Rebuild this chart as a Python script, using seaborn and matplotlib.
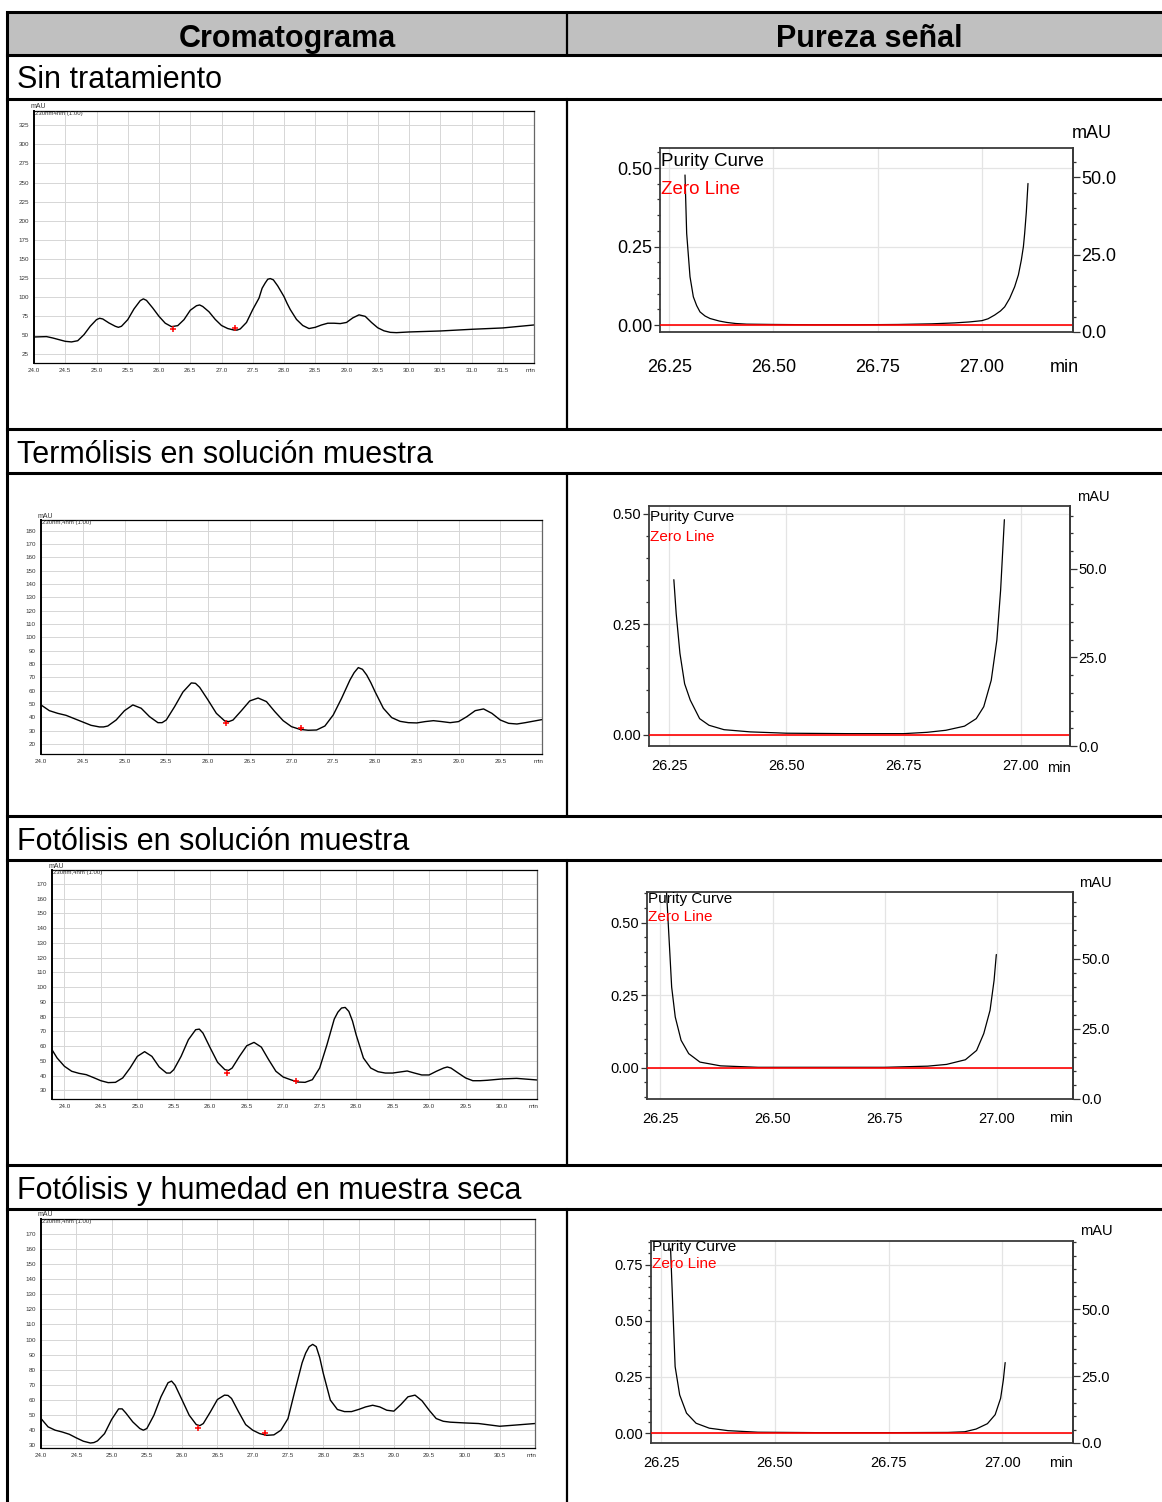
import matplotlib
matplotlib.use('Agg')
import matplotlib.pyplot as plt
import seaborn as sns
from matplotlib import font_manager
from matplotlib.patches import Rectangle
from matplotlib.ticker import MultipleLocator, FixedLocator, FuncFormatter, FormatStrFormatter

# ---------------- data ----------------
headers = ['Cromatograma', 'Pureza señal']
conditions = ['Sin tratamiento', 'Termólisis en solución muestra',
              'Fotólisis en solución muestra', 'Fotólisis y humedad en muestra seca']
wl_labels = ['230nm4nm (1.00)', '230nm,4nm (1.00)', '230nm,4nm (1.00)', '230nm,4nm (1.00)']

# chromatograms (min, mAU)
sin_t = [24.0, 24.2, 24.3, 24.4, 24.5, 24.6, 24.7, 24.8, 24.9,
         25.0, 25.05, 25.1, 25.2, 25.3, 25.35, 25.4, 25.5, 25.6, 25.7, 25.75, 25.8, 25.9,
         26.0, 26.1, 26.2, 26.3, 26.4, 26.5, 26.6, 26.65, 26.7, 26.8, 26.9,
         27.0, 27.1, 27.2, 27.25, 27.3, 27.4, 27.5, 27.6, 27.65, 27.7, 27.74, 27.78, 27.83,
         27.9, 27.95, 28.0, 28.05, 28.1, 28.2, 28.3, 28.4, 28.5, 28.6, 28.7, 28.8, 28.9,
         29.0, 29.1, 29.2, 29.3, 29.4, 29.5, 29.6, 29.7, 29.8,
         30.0, 30.5, 31.0, 31.5, 32.0]
sin_mau = [46.9, 47.4, 45.6, 43.4, 41.2, 40.4, 42.0, 50.0, 61.0,
           69.7, 71.5, 70.6, 65.3, 61.0, 59.6, 61.0, 69.7, 83.8, 94.7, 97.0, 95.0, 85.0,
           74.0, 65.0, 60.5, 61.8, 69.7, 82.0, 88.0, 89.0, 87.0, 80.0, 70.0,
           62.0, 58.0, 56.0, 56.0, 57.5, 66.0, 83.0, 98.0, 111.0, 118.0, 122.8, 123.7, 122.0,
           114.0, 107.0, 100.0, 91.0, 83.0, 70.0, 62.0, 58.0, 59.6, 62.7, 65.0, 65.0, 64.5,
           66.0, 72.0, 76.0, 74.0, 66.0, 59.0, 55.0, 53.0, 52.6,
           53.5, 54.8, 57.0, 58.8, 62.7]

termo_t = [24.0, 24.1, 24.2, 24.3, 24.4, 24.5, 24.6, 24.7, 24.75, 24.8, 24.9,
           25.0, 25.1, 25.2, 25.3, 25.4, 25.45, 25.5, 25.6, 25.7, 25.8, 25.85, 25.9,
           26.0, 26.1, 26.2, 26.25, 26.3, 26.4, 26.5, 26.6, 26.7, 26.8, 26.9,
           27.0, 27.1, 27.2, 27.3, 27.4, 27.5, 27.6, 27.7, 27.75, 27.8, 27.85, 27.9, 27.95,
           28.0, 28.1, 28.2, 28.3, 28.4, 28.5, 28.6, 28.7, 28.8, 28.9,
           29.0, 29.1, 29.2, 29.3, 29.4, 29.5, 29.6, 29.7, 29.8, 30.0]
termo_mau = [49.3, 45.0, 43.0, 41.5, 39.0, 36.5, 34.0, 32.8, 32.8, 33.5, 38.0,
             45.0, 49.3, 46.8, 40.5, 36.0, 36.0, 38.0, 48.0, 59.0, 65.8, 65.5, 62.5,
             53.0, 43.0, 37.3, 36.8, 38.0, 45.0, 52.3, 54.5, 51.8, 44.3, 37.5,
             33.0, 31.0, 30.3, 30.5, 33.5, 41.8, 54.3, 68.0, 73.5, 77.3, 76.0, 71.8, 66.0,
             59.3, 46.8, 39.8, 37.0, 36.0, 35.8, 36.8, 37.5, 36.8, 36.0,
             36.8, 40.5, 45.0, 46.3, 43.0, 38.0, 35.5, 35.0, 36.0, 38.3]

foto_t = [23.83, 23.9, 24.0, 24.1, 24.2, 24.3, 24.4, 24.5, 24.6, 24.7, 24.8, 24.9,
          25.0, 25.1, 25.2, 25.3, 25.4, 25.45, 25.5, 25.6, 25.7, 25.8, 25.85, 25.9,
          26.0, 26.1, 26.2, 26.25, 26.3, 26.4, 26.5, 26.6, 26.7, 26.8, 26.9,
          27.0, 27.1, 27.2, 27.3, 27.4, 27.5, 27.6, 27.7, 27.75, 27.8, 27.85, 27.9, 27.95,
          28.0, 28.1, 28.2, 28.3, 28.4, 28.5, 28.6, 28.7, 28.8, 28.9,
          29.0, 29.1, 29.2, 29.25, 29.3, 29.4, 29.5, 29.6, 29.7, 29.8,
          30.0, 30.2, 30.48]
foto_mau = [57.5, 51.9, 46.3, 42.9, 41.5, 40.6, 38.6, 36.5, 35.2, 35.4, 38.4, 45.1,
            53.0, 56.2, 53.0, 45.8, 41.7, 41.7, 44.0, 53.0, 64.3, 71.1, 71.5, 68.8,
            58.7, 49.0, 44.0, 43.5, 45.1, 53.0, 60.2, 62.5, 59.3, 50.8, 42.9,
            39.0, 37.2, 35.6, 35.4, 37.2, 45.1, 60.9, 78.3, 83.0, 85.8, 86.2, 83.5, 77.0,
            67.7, 51.9, 45.1, 42.6, 41.7, 41.7, 42.4, 43.1, 41.7, 40.4,
            40.4, 42.9, 45.1, 45.8, 45.1, 41.7, 38.4, 36.5, 36.5, 36.8,
            37.7, 38.1, 37.0]

hum_t = [24.0, 24.1, 24.2, 24.3, 24.4, 24.5, 24.6, 24.7, 24.75, 24.8, 24.9,
         25.0, 25.1, 25.15, 25.2, 25.3, 25.4, 25.45, 25.5, 25.6, 25.7, 25.8, 25.85, 25.9,
         26.0, 26.1, 26.2, 26.25, 26.3, 26.4, 26.5, 26.6, 26.65, 26.7, 26.8, 26.9,
         27.0, 27.1, 27.2, 27.3, 27.4, 27.5, 27.6, 27.7, 27.75, 27.8, 27.85, 27.9, 27.95,
         28.0, 28.1, 28.2, 28.3, 28.4, 28.5, 28.6, 28.7, 28.8, 28.9,
         29.0, 29.1, 29.2, 29.3, 29.4, 29.5, 29.6, 29.7, 29.8,
         30.0, 30.2, 30.5, 30.7, 31.0]
hum_mau = [47.7, 42.2, 40.0, 38.8, 37.3, 34.9, 32.7, 31.5, 31.8, 32.9, 37.7,
           47.0, 54.1, 54.1, 51.5, 45.5, 41.1, 40.0, 41.1, 49.9, 62.1, 71.4, 72.5, 69.8,
           59.9, 49.9, 43.7, 43.0, 44.4, 52.1, 60.3, 63.2, 63.0, 61.0, 52.1, 43.7,
           40.0, 37.7, 36.6, 36.9, 40.0, 47.7, 66.5, 84.6, 91.0, 95.3, 96.8, 95.3, 88.0,
           77.6, 59.9, 53.7, 52.3, 52.3, 53.7, 55.4, 56.5, 55.4, 53.2,
           52.6, 57.0, 62.1, 63.2, 59.4, 53.2, 47.7, 45.9, 45.3,
           44.8, 44.4, 42.6, 43.3, 44.4]

# red integration marks
sin_mk_t, sin_mk_mau = [26.22, 27.22], [57.5, 58.8]
termo_mk_t, termo_mk_mau = [26.21, 27.11], [35.5, 31.8]
foto_mk_t, foto_mk_mau = [26.23, 27.17], [41.7, 36.5]
hum_mk_t, hum_mk_mau = [26.23, 27.17], [41.5, 38.2]

# purity curves (min, purity)
sin_pt = [26.288, 26.292, 26.300, 26.308, 26.316, 26.324, 26.336, 26.348, 26.370, 26.388,
          26.410, 26.436, 26.50, 26.60, 26.70, 26.80, 26.88, 26.935, 26.97, 27.00,
          27.015, 27.031, 27.045, 27.055, 27.067, 27.079, 27.088, 27.095, 27.100,
          27.103, 27.107, 27.111]
sin_pur = [0.478, 0.292, 0.154, 0.090, 0.062, 0.042, 0.029, 0.021, 0.013, 0.0085,
           0.005, 0.003, 0.002, 0.001, 0.001, 0.002, 0.004, 0.007, 0.010, 0.014,
           0.020, 0.032, 0.045, 0.058, 0.085, 0.122, 0.160, 0.207, 0.250,
           0.292, 0.360, 0.451]

termo_pt = [26.260, 26.265, 26.273, 26.283, 26.295, 26.315, 26.335, 26.367, 26.423, 26.50,
            26.634, 26.75, 26.80, 26.840, 26.880, 26.905, 26.921, 26.937, 26.949,
            26.957, 26.965]
termo_pur = [0.351, 0.274, 0.184, 0.115, 0.078, 0.036, 0.021, 0.011, 0.006, 0.003,
             0.002, 0.002, 0.005, 0.0096, 0.019, 0.036, 0.063, 0.123, 0.214,
             0.327, 0.487]

foto_pt = [26.263, 26.271, 26.275, 26.283, 26.296, 26.313, 26.338, 26.384, 26.468, 26.60,
           26.75, 26.846, 26.888, 26.930, 26.955, 26.971, 26.985, 26.994, 26.999]
foto_pur = [0.62, 0.393, 0.278, 0.175, 0.095, 0.049, 0.020, 0.007, 0.002, 0.002,
            0.002, 0.006, 0.012, 0.028, 0.060, 0.118, 0.198, 0.301, 0.390]

hum_pt = [26.271, 26.277, 26.281, 26.291, 26.306, 26.327, 26.356, 26.397, 26.463, 26.60,
          26.75, 26.88, 26.917, 26.942, 26.967, 26.984, 26.996, 27.002, 27.006]
hum_pur = [0.821, 0.503, 0.296, 0.170, 0.089, 0.044, 0.022, 0.011, 0.004, 0.002,
           0.002, 0.003, 0.006, 0.018, 0.042, 0.082, 0.155, 0.237, 0.314]

# ---------------- style ----------------
sns.set_style('white')
plt.rcParams['font.family'] = ['Liberation Sans', 'DejaVu Sans']
plt.rcParams['text.color'] = 'black'
plt.rcParams['xtick.color'] = 'black'
plt.rcParams['ytick.color'] = 'black'
names = {f.name for f in font_manager.fontManager.ttflist}
NARROW = 'Liberation Sans Narrow' if 'Liberation Sans Narrow' in names else 'Liberation Sans'

W, H = 1162, 1502
fig = plt.figure(figsize=(W / 100, H / 100), dpi=100)


def px_box(l, t, r, b):
    return [l / W, 1 - b / H, (r - l) / W, (b - t) / H]


# background: the table
bg = fig.add_axes([0, 0, 1, 1])
bg.set_xlim(0, W)
bg.set_ylim(H, 0)
bg.axis('off')
bg.add_patch(Rectangle((7, 12), W - 7, 43, facecolor='#c0c0c0', edgecolor='none'))
LW = 2.2
for y in [12, 55, 99, 429, 473, 816, 860, 1165, 1209]:
    bg.plot([7, W], [y, y], color='black', lw=LW, solid_capstyle='projecting')
bg.plot([7, 7], [12, H], color='black', lw=LW)
for y0, y1 in [(12, 55), (99, 429), (473, 816), (860, 1165), (1209, H)]:
    bg.plot([567, 567], [y0, y1], color='black', lw=1.6)
bg.text(287, 47, headers[0], ha='center', va='baseline', fontsize=22, fontweight='bold')
bg.text(869, 47, headers[1], ha='center', va='baseline', fontsize=22, fontweight='bold')
for name, yb in zip(conditions, [88, 463, 850, 1199]):
    bg.text(17, yb, name, ha='left', va='baseline', fontsize=22)

# overlay for small annotations in pixel coordinates
top = fig.add_axes([0, 0, 1, 1], zorder=20)
top.set_xlim(0, W)
top.set_ylim(H, 0)
top.axis('off')
top.patch.set_visible(False)

chrom_data = [(sin_t, sin_mau, sin_mk_t, sin_mk_mau),
              (termo_t, termo_mau, termo_mk_t, termo_mk_mau),
              (foto_t, foto_mau, foto_mk_t, foto_mk_mau),
              (hum_t, hum_mau, hum_mk_t, hum_mk_mau)]
chrom_layout = [
    dict(box=(34, 111, 534, 363), xlim=(24.0, 32.0), ylim=(12.7, 344), ystep=25),
    dict(box=(41, 520, 542, 754), xlim=(24.0, 30.0), ylim=(12.5, 188), ystep=10),
    dict(box=(52, 870, 537, 1099), xlim=(23.83, 30.48), ylim=(24.1, 179.4), ystep=10),
    dict(box=(41, 1219, 535, 1448), xlim=(24.0, 31.0), ylim=(28.2, 179.8), ystep=10),
]


def x_fmt(xmax):
    return FuncFormatter(lambda v, p: '' if v > xmax - 0.01 else f'{v:.1f}')


for (t, m, mk_t, mk_m), lay, wl in zip(chrom_data, chrom_layout, wl_labels):
    l, tp, r, b = lay['box']
    ax = fig.add_axes(px_box(l, tp, r, b))
    ax.set_axisbelow(True)
    sns.lineplot(x=t, y=m, ax=ax, color='black', linewidth=1.0, estimator=None, sort=False)
    sns.scatterplot(x=mk_t, y=mk_m, ax=ax, color='red', marker='+', s=22, linewidth=1.1, zorder=5)
    ax.set_xlim(*lay['xlim'])
    ax.set_ylim(*lay['ylim'])
    ax.xaxis.set_major_locator(MultipleLocator(0.5))
    ax.xaxis.set_minor_locator(MultipleLocator(0.1))
    ax.yaxis.set_major_locator(MultipleLocator(lay['ystep']))
    ax.yaxis.set_minor_locator(MultipleLocator(lay['ystep'] / 5))
    ax.xaxis.set_major_formatter(x_fmt(lay['xlim'][1]))
    ax.yaxis.set_major_formatter(FormatStrFormatter('%d'))
    ax.grid(True, which='major', color='#d6d6d6', lw=0.7)
    ax.tick_params(axis='both', which='both', direction='out', labelsize=4.5, pad=1.5,
                   colors='black', labelcolor='#333333')
    ax.tick_params(axis='both', which='major', length=2.2, width=0.7)
    ax.tick_params(axis='both', which='minor', length=1.5, width=0.6)
    for side, sp in ax.spines.items():
        sp.set_color('black')
        sp.set_linewidth(0.9)
    ax.spines['left'].set_linewidth(1.4)
    ax.spines['right'].set_color('#666666')
    ax.set_xlabel('')
    ax.set_ylabel('')
    top.text(l + 4, tp - 4, 'mAU', fontsize=5, ha='center', va='center', color='#333333')
    top.text(l + 1, tp + 2.5, wl, fontsize=4.3, ha='left', va='center', color='#333333')
    top.text(r - 3, b + 7.5, 'min', fontsize=4.5, ha='center', va='center', color='#333333')

pur_data = [(sin_pt, sin_pur), (termo_pt, termo_pur), (foto_pt, foto_pur), (hum_pt, hum_pur)]
pur_layout = [
    dict(box=(660, 148, 1073, 332), xlim=(26.228, 27.219), ylim=(-0.022, 0.564), rlim=(0, 59.4),
         font=NARROW, fs=13, xlen=12.2, xpad=7, mau=(1092, 133), minl=(1064, 367),
         leg=(661, 162, 190)),
    dict(box=(649, 506, 1070, 746), xlim=(26.207, 27.105), ylim=(-0.026, 0.518), rlim=(0, 67.75),
         font='Liberation Sans', fs=10.5, xlen=7.2, xpad=2.5, mau=(1093, 497), minl=(1059, 768),
         leg=(650, 517, 537)),
    dict(box=(647, 892, 1073, 1099), xlim=(26.220, 27.170), ylim=(-0.107, 0.605), rlim=(0, 73.7),
         font='Liberation Sans', fs=10.5, xlen=7.5, xpad=2.0, mau=(1095, 883), minl=(1061, 1118),
         leg=(648, 899, 917)),
    dict(box=(651, 1241, 1073, 1443), xlim=(26.228, 27.155), ylim=(-0.044, 0.855), rlim=(0, 75.5),
         font='Liberation Sans', fs=10.5, xlen=7.2, xpad=2.0, mau=(1096, 1231), minl=(1061, 1463),
         leg=(652, 1247, 1264)),
]
mau_ticks = [0, 25, 50]

for (pt, pu), lay in zip(pur_data, pur_layout):
    l, tp, r, b = lay['box']
    ax = fig.add_axes(px_box(l, tp, r, b))
    ax.set_axisbelow(True)
    sns.lineplot(x=pt, y=pu, ax=ax, color='black', linewidth=0.9, estimator=None, sort=False)
    ax.axhline(0, color='red', lw=1.2, zorder=3)
    ax.set_xlim(*lay['xlim'])
    ax.set_ylim(*lay['ylim'])
    ax.xaxis.set_major_locator(MultipleLocator(0.25))
    ax.xaxis.set_minor_locator(MultipleLocator(0.05))
    ax.yaxis.set_major_locator(MultipleLocator(0.25))
    ax.yaxis.set_minor_locator(MultipleLocator(0.05))
    ax.xaxis.set_major_formatter(FormatStrFormatter('%.2f'))
    ax.yaxis.set_major_formatter(FormatStrFormatter('%.2f'))
    ax.grid(True, which='major', color='#e4e4e4', lw=0.9)
    ax.tick_params(axis='both', which='both', direction='out', labelsize=lay['fs'],
                   labelfontfamily=lay['font'], color='#333333', labelcolor='black', width=0.9)
    ax.tick_params(axis='x', which='major', length=lay['xlen'], pad=lay['xpad'])
    ax.tick_params(axis='x', which='minor', length=lay['xlen'] * 0.5)
    ax.tick_params(axis='y', which='major', length=4.5, pad=1)
    ax.tick_params(axis='y', which='minor', length=2.2)
    for sp in ax.spines.values():
        sp.set_color('#3a3a3a')
        sp.set_linewidth(1.3)
    ax.set_xlabel('')
    ax.set_ylabel('')

    ax2 = ax.twinx()
    ax2.set_ylim(*lay['rlim'])
    ax2.yaxis.set_major_locator(FixedLocator(mau_ticks))
    ax2.yaxis.set_minor_locator(MultipleLocator(5))
    ax2.yaxis.set_major_formatter(FormatStrFormatter('%.1f'))
    ax2.grid(False)
    for side, sp in ax2.spines.items():
        sp.set_visible(side == 'right')
    ax2.spines['right'].set_color('#3a3a3a')
    ax2.spines['right'].set_linewidth(1.3)
    ax2.tick_params(axis='y', which='both', direction='out', labelsize=lay['fs'],
                    labelfontfamily=lay['font'], color='#333333', labelcolor='black',
                    width=0.9, pad=1)
    ax2.tick_params(axis='y', which='major', length=5)
    ax2.tick_params(axis='y', which='minor', length=2.5)

    lx, ly1, ly2 = lay['leg']
    top.text(lx, ly1, 'Purity Curve', ha='left', va='center', fontsize=lay['fs'] + 0.5,
             family=lay['font'], color='black')
    top.text(lx, ly2, 'Zero Line', ha='left', va='center', fontsize=lay['fs'] + 0.5,
             family=lay['font'], color='red')
    top.text(*lay['mau'], 'mAU', ha='center', va='center', fontsize=lay['fs'], family=lay['font'])
    top.text(*lay['minl'], 'min', ha='center', va='center', fontsize=lay['fs'], family=lay['font'])

fig.savefig('out.png', dpi=100)
